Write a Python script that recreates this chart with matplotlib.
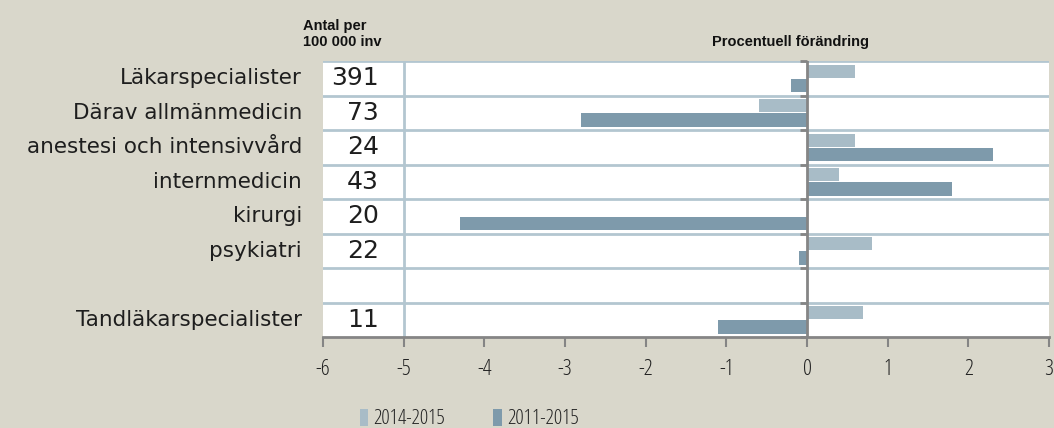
import matplotlib
matplotlib.use("Agg")
import matplotlib.pyplot as plt
import numpy as np
from matplotlib.font_manager import FontProperties

categories = ["Läkarspecialister", "Därav allmänmedicin", "anestesi och intensivvård",
              "internmedicin", "kirurgi", "psykiatri", "", "Tandläkarspecialister"]
antal = ["391", "73", "24", "43", "20", "22", "", "11"]
chg_2014_2015 = [0.6, -0.6, 0.6, 0.4, 0.0, 0.8, np.nan, 0.7]
chg_2011_2015 = [-0.2, -2.8, 2.3, 1.8, -4.3, -0.1, np.nan, -1.1]
series_labels = ["2014-2015", "2011-2015"]
xticks = [-6, -5, -4, -3, -2, -1, 0, 1, 2, 3]

tickfp = FontProperties(family="Open Sans", stretch="condensed", weight=300, size=16)
legfp = FontProperties(family="Open Sans", stretch="condensed", weight=300, size=15)
labfp = FontProperties(family="DejaVu Sans", weight=400, size=15.5)
numfp = FontProperties(family="DejaVu Sans", weight=400, size=18)

BG = "#d9d7cb"
LIGHT = "#a8bcc7"
DARK = "#7e9aab"
GRID = "#b3c6d0"
AXC = "#858585"
TXT = "#1e1e1e"

fig = plt.figure(figsize=(10.54, 4.28), dpi=100, facecolor=BG)
ax = fig.add_axes([323/1054, 1-337/428, (1049-323)/1054, (337-61)/428])
ax.set_facecolor("white")

n = len(categories)
y = np.arange(n)
h = 0.38
ax.barh(y - 0.2, chg_2014_2015, height=h, color=LIGHT, label=series_labels[0], zorder=3)
ax.barh(y + 0.21, chg_2011_2015, height=h, color=DARK, label=series_labels[1], zorder=3)

ax.set_xlim(xticks[0], xticks[-1])
ax.set_ylim(n - 0.5, -0.5)

for b in np.arange(-0.5, n - 0.5, 1.0):
    ax.axhline(b, color=GRID, lw=2, zorder=1)
ax.axvline(-5, color=GRID, lw=2, zorder=1)

ax.axvline(0, color=AXC, lw=2, zorder=4)
for b in np.arange(-0.5, n + 0.5, 1.0):
    ax.plot([-0.09, 0], [b, b], color=AXC, lw=2, zorder=4, clip_on=False, solid_capstyle="butt")

for s in ["top", "right", "left"]:
    ax.spines[s].set_visible(False)
ax.spines["bottom"].set_color(AXC)
ax.spines["bottom"].set_linewidth(2)
ax.set_xticks(xticks)
ax.set_xticklabels([str(t) for t in xticks], fontproperties=tickfp, color="#222222")
ax.tick_params(axis="x", direction="out", length=7, width=1.5, color=AXC, pad=9)
ax.set_yticks([])

for i, a in enumerate(antal):
    ax.text(-5.31, i, a, ha="right", va="center", fontproperties=numfp,
            color=TXT, zorder=5)

for i, c in enumerate(categories):
    fig.text(302/1054, 1 - (61 + 34.5 * (i + 0.5)) / 428, c, ha="right", va="center",
             fontproperties=labfp, color=TXT)

fig.text(303/1054, 1 - 34/428, "Antal per\n100 000 inv", ha="left", va="center",
         fontsize=10.5, fontweight="bold", fontfamily="Liberation Sans", color="#111111",
         linespacing=1.25)
fig.text(790/1054, 1 - 42/428, "Procentuell förändring", ha="center", va="center",
         fontsize=10.5, fontweight="bold", fontfamily="Liberation Sans", color="#111111")

leg = fig.legend(loc="center left", bbox_to_anchor=(360/1054, 1 - 419/428), ncol=2,
                 frameon=False, handlelength=0.4, handleheight=0.9, handletextpad=0.25,
                 columnspacing=2.3, prop=legfp, borderaxespad=0, borderpad=0)
for t in leg.get_texts():
    t.set_color("#222222")

fig.savefig("out.png", dpi=100, facecolor=BG)
